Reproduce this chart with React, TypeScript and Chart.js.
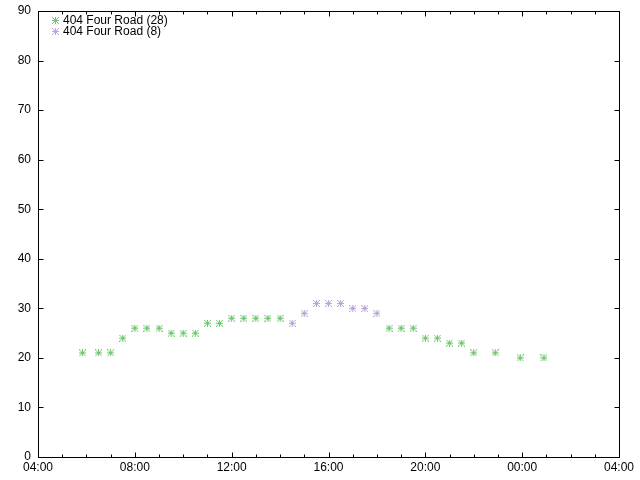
import React, { useEffect, useRef } from "react";
import { Chart, registerables } from "chart.js";

Chart.register(...registerables);

const seriesLabels = ["404 Four Road (28)", "404 Four Road (8)"];
const seriesColors = ["#72c872", "#b9a5da"];

const greenTimes = ["05:50", "06:30", "07:00", "07:30", "08:00", "08:30", "09:00", "09:30", "10:00", "10:30", "11:00", "11:30", "12:00", "12:30", "13:00", "13:30", "14:00", "18:30", "19:00", "19:30", "20:00", "20:30", "21:00", "21:30", "22:00", "22:53", "23:55", "00:54"];
const greenValues = [21, 21, 21, 24, 26, 26, 26, 25, 25, 25, 27, 27, 28, 28, 28, 28, 28, 26, 26, 26, 24, 24, 23, 23, 21, 21, 20, 20];

const purpleTimes = ["14:30", "15:00", "15:30", "16:00", "16:30", "17:00", "17:30", "18:00"];
const purpleValues = [27, 29, 31, 31, 31, 30, 30, 29];

const xStartHour = 4; // axis starts at 04:00
const xTickHours = [0, 4, 8, 12, 16, 20, 24];
const yTicks = [0, 10, 20, 30, 40, 50, 60, 70, 80, 90];

function toOffset(t: string): number {
  const [h, m] = t.split(":").map(Number);
  let v = h + m / 60 - xStartHour;
  if (v < 0) v += 24;
  return v;
}

function toPoints(times: string[], values: number[]) {
  return times.map((t, i) => ({ x: toOffset(t), y: values[i] }));
}

function makeMarker(color: string): HTMLCanvasElement {
  const c = document.createElement("canvas");
  c.width = 7;
  c.height = 7;
  const g = c.getContext("2d")!;
  g.fillStyle = color;
  for (let i = 0; i < 7; i++) {
    g.fillRect(3, i, 1, 1);
    g.fillRect(i, 3, 1, 1);
    g.fillRect(i, i, 1, 1);
    g.fillRect(i, 6 - i, 1, 1);
  }
  return c;
}

const framePlugin = {
  id: "frame",
  afterDraw(chart: any) {
    const { ctx, chartArea: a, scales } = chart;
    ctx.save();
    ctx.strokeStyle = "#000";
    ctx.lineWidth = 1;
    ctx.strokeRect(a.left + 0.5, a.top + 0.5, a.right - a.left, a.bottom - a.top);
    ctx.beginPath();
    for (let h = 0; h <= 24; h++) {
      const px = Math.round(scales.x.getPixelForValue(h)) + 0.5;
      const len = h % 4 === 0 ? 5 : 3;
      ctx.moveTo(px, a.bottom + 0.5);
      ctx.lineTo(px, a.bottom + 0.5 - len);
      ctx.moveTo(px, a.top + 0.5);
      ctx.lineTo(px, a.top + 0.5 + len);
    }
    for (const v of yTicks) {
      const py = Math.round(scales.y.getPixelForValue(v)) + 0.5;
      ctx.moveTo(a.left + 0.5, py);
      ctx.lineTo(a.left + 0.5 + 5, py);
      ctx.moveTo(a.right + 0.5, py);
      ctx.lineTo(a.right + 0.5 - 5, py);
    }
    ctx.stroke();

    // legend
    ctx.font = '12px "Liberation Sans", Arial, sans-serif';
    ctx.fillStyle = "#000";
    ctx.textBaseline = "middle";
    ctx.textAlign = "left";
    chart.data.datasets.forEach((ds: any, i: number) => {
      const y = a.top + 9 + i * 11;
      ctx.drawImage(ds.pointStyle, a.left + 14, y - 3);
      ctx.fillText(ds.label, a.left + 25, y + 0.5);
    });
    ctx.restore();
  },
};

export default function App() {
  const ref = useRef<HTMLCanvasElement | null>(null);
  useEffect(() => {
    if (!ref.current) return;
    Chart.defaults.font.family = '"Liberation Sans", Arial, sans-serif';
    Chart.defaults.font.size = 12;
    Chart.defaults.color = "#000";
    const chart = new Chart(ref.current, {
      type: "scatter",
      data: {
        datasets: [
          {
            label: seriesLabels[0],
            data: toPoints(greenTimes, greenValues),
            borderColor: seriesColors[0],
            backgroundColor: seriesColors[0],
            pointStyle: makeMarker(seriesColors[0]),
            pointRadius: 3.5,
          },
          {
            label: seriesLabels[1],
            data: toPoints(purpleTimes, purpleValues),
            borderColor: seriesColors[1],
            backgroundColor: seriesColors[1],
            pointStyle: makeMarker(seriesColors[1]),
            pointRadius: 3.5,
          },
        ],
      },
      options: {
        animation: false,
        responsive: false,
        maintainAspectRatio: false,
        layout: { padding: { top: 11, right: 21, left: 0, bottom: 0 } },
        plugins: { legend: { display: false }, tooltip: { enabled: false } },
        scales: {
          x: {
            type: "linear",
            min: 0,
            max: 24,
            grid: { display: false, drawTicks: false, tickLength: 0 },
            border: { display: false },
            afterBuildTicks: (s: any) => {
              s.ticks = xTickHours.map((v) => ({ value: v }));
            },
            afterFit: (s: any) => {
              s.height = 23;
              s.paddingLeft = 0;
              s.paddingRight = 0;
            },
            ticks: {
              padding: 3,
              maxRotation: 0,
              autoSkip: false,
              color: "#000",
              font: { size: 12 },
              callback: (v: any) => {
                const h = (Number(v) + xStartHour) % 24;
                return String(h).padStart(2, "0") + ":00";
              },
            },
          },
          y: {
            min: 0,
            max: 90,
            grid: { display: false, drawTicks: false, tickLength: 0 },
            border: { display: false },
            afterBuildTicks: (s: any) => {
              s.ticks = yTicks.map((v) => ({ value: v }));
            },
            afterFit: (s: any) => {
              s.width = 38;
              s.paddingTop = 0;
              s.paddingBottom = 0;
            },
            ticks: {
              padding: 7,
              autoSkip: false,
              color: "#000",
              font: { size: 12 },
            },
          },
        },
      },
      plugins: [framePlugin],
    } as any);
    return () => chart.destroy();
  }, []);
  return (
    <div style={{ position: "fixed", left: 0, top: 0, width: 640, height: 480, background: "#fff" }}>
      <canvas ref={ref} width={640} height={480} style={{ width: 640, height: 480 }} />
    </div>
  );
}
